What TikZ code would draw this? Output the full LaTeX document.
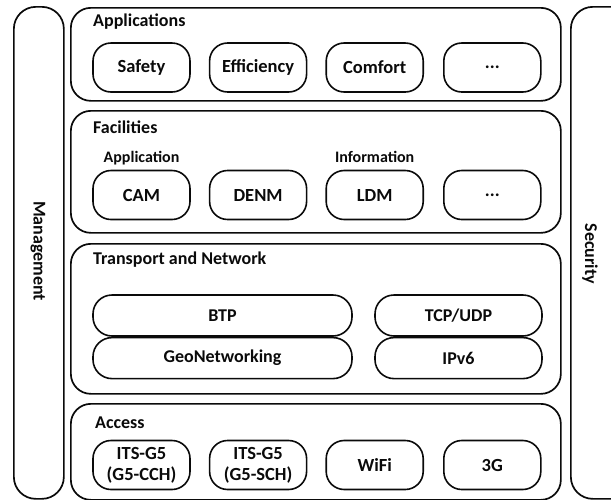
\documentclass[tikz,border=0pt]{standalone}
\usepackage{fontspec}
\setmainfont{Carlito}
\usepackage{tikz}
\usetikzlibrary{positioning}
\definecolor{ink}{HTML}{0A0A0A}
\tikzset{
  layer/.style={draw=ink, line width=1.7pt, rounded corners=20pt, anchor=north west, inner sep=0pt},
  sidebar/.style={draw=ink, line width=1.7pt, rounded corners=22pt, anchor=north west, inner sep=0pt},
  pill/.style={draw=ink, line width=1.6pt, rounded corners=18pt, minimum width=97pt, minimum height=49pt,
    align=center, inner sep=0pt, text=ink, font=\bfseries\fontsize{18.5}{21}\selectfont},
  bar/.style={draw=ink, line width=1.6pt, rounded corners=19pt, minimum height=41pt,
    inner sep=0pt, text=ink, font=\bfseries\fontsize{18}{21}\selectfont},
  title/.style={anchor=west, inner sep=0pt, text=ink, font=\bfseries\fontsize{18}{21}\selectfont},
  sublbl/.style={inner sep=0pt, text depth=0pt, text=ink, font=\bfseries\fontsize{16}{19}\selectfont}
}

\begin{document}
\begin{tikzpicture}[x=1pt, y=-1pt]
  \useasboundingbox (0,0) rectangle (611,499);

  % side columns
  \node[sidebar, minimum width=50pt, minimum height=492pt] (management) at (13,6) {};
  \node[sidebar, minimum width=70pt, minimum height=492pt] (security) at (570,6) {};
  \node[title, anchor=center, rotate=-90] (managementlbl) at (38,251) {Management};
  \node[title, anchor=center, rotate=-90] (securitylbl) at (590,254) {Security};

  % layers
  \node[layer, minimum width=490pt, minimum height=93pt] (applications) at (70,7) {};
  \node[layer, minimum width=490pt, minimum height=122pt] (facilities) at (70,110) {};
  \node[layer, minimum width=490pt, minimum height=150pt] (transport) at (70,243) {};
  \node[layer, minimum width=490pt, minimum height=96pt] (access) at (70,403) {};

  \node[title] (applicationslbl) at (93,22) {Applications};
  \node[title] (facilitieslbl) at (93,127) {Facilities};
  \node[title] (transportlbl) at (93,260) {Transport and Network};
  \node[title] (accesslbl) at (95,423) {Access};

  % applications
  \node[pill] (safety) at (141.5,67.5) {Safety};
  \node[pill, right=18pt of safety] (efficiency) {Efficiency};
  \node[pill, right=18pt of efficiency] (comfort) {Comfort};
  \node[pill, right=19pt of comfort] (appmore) {...};

  % facilities
  \node[pill] (cam) at (141.5,195) {CAM};
  \node[pill, right=18pt of cam] (denm) {DENM};
  \node[pill, right=18pt of denm] (ldm) {LDM};
  \node[pill, right=19pt of ldm] (facmore) {...};
  \node[sublbl, above=7pt of cam] (applicationsub) {Application};
  \node[sublbl, above=7pt of ldm] (informationsub) {Information};

  % transport and network
  \node[bar, minimum width=259pt] (btp) at (222.5,315.5) {BTP};
  \node[bar, minimum width=259pt, below=0pt of btp] (geonet) {GeoNetworking};
  \node[bar, minimum width=167pt] (tcpudp) at (458.5,315.5) {TCP/UDP};
  \node[bar, minimum width=167pt, below=0pt of tcpudp] (ipv6) {IPv6};

  % access
  \node[pill] (cch) at (141.5,465) {ITS-G5\\(G5-CCH)};
  \node[pill, right=18pt of cch] (sch) {ITS-G5\\(G5-SCH)};
  \node[pill, right=18pt of sch] (wifi) {WiFi};
  \node[pill, right=19pt of wifi] (threeg) {3G};
\end{tikzpicture}
\end{document}
